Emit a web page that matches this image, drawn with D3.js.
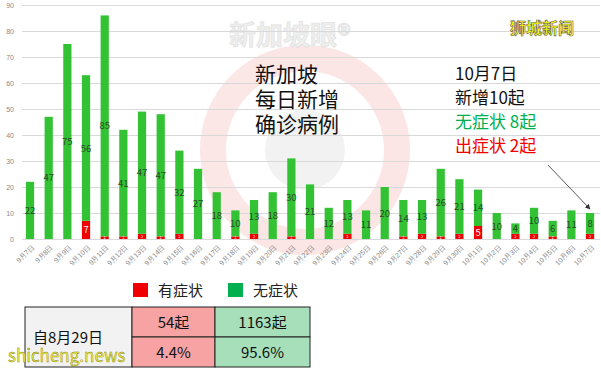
<!DOCTYPE html>
<html>
<head>
<meta charset="utf-8">
<script src="https://cdn.jsdelivr.net/npm/d3@7"></script>
<style>
  body { margin: 0; background: #fff; }
  svg { font-family: "Noto Sans CJK SC", "Noto Sans", sans-serif; }
</style>
</head>
<body>
<svg width="601" height="369"></svg>
<script>
// data
const dates = ['9月7日','9月8日','9月9日','9月10日','9月11日','9月12日','9月13日','9月14日','9月15日','9月16日',
  '9月17日','9月18日','9月19日','9月20日','9月21日','9月22日','9月23日','9月24日','9月25日','9月26日',
  '9月27日','9月28日','9月29日','9月30日','10月1日','10月2日','10月3日','10月4日','10月5日','10月6日','10月7日'];
const symptomatic = [0,0,0,7,1,1,2,1,2,0,0,1,2,0,1,0,0,2,0,0,1,2,1,2,5,0,2,2,1,0,2];
const asymptomatic = [22,47,75,56,85,41,47,47,32,27,18,10,13,18,30,21,12,13,11,20,14,13,26,21,14,10,4,10,6,11,8];
const yTicks = [0,10,20,30,40,50,60,70,80,90];
const tableRows = [['54起','1163起'],['4.4%','95.6%']];

const red = '#f00000';
const green = '#33c233';
const darkGreen = '#00b050';

const svg = d3.select('svg');
const data = dates.map((d, i) => ({date: d, sym: symptomatic[i], asym: asymptomatic[i]}));

// faint watermark logo
const wm = svg.append('g').attr('opacity', 0.1);
wm.append('circle').attr('cx', 305).attr('cy', 150).attr('r', 92)
  .attr('fill', 'none').attr('stroke', '#e01010').attr('stroke-width', 26);
wm.append('circle').attr('cx', 305).attr('cy', 150).attr('r', 40).attr('fill', '#888');
svg.append('text').attr('x', 290).attr('y', 45).attr('text-anchor', 'middle')
  .attr('font-size', 27).attr('font-weight', 'bold').attr('fill', '#eeeeee')
  .attr('stroke', '#e0e0e0').attr('stroke-width', 0.6).text('新加坡眼®');

const x = d3.scaleBand().domain(dates).range([20.7, 599.4]).paddingInner(0.56).paddingOuter(0.28);
const y = d3.scaleLinear().domain([0, 90]).range([239, 5]);

// gridlines + y axis
const yAxis = d3.axisLeft(y).tickValues(yTicks).tickSize(-578).tickPadding(8);
const yAxisG = svg.append('g').attr('transform', 'translate(22,0)').call(yAxis);
yAxisG.select('.domain').remove();
yAxisG.selectAll('line').attr('stroke', '#d9d9d9');
yAxisG.selectAll('text').attr('fill', '#8a8a8a').attr('font-size', 7).attr('x', -8);

// x axis labels, slanted
const xAxis = d3.axisBottom(x).tickSize(0).tickPadding(0);
const xAxisG = svg.append('g').attr('transform', 'translate(0,239)').call(xAxis);
xAxisG.select('.domain').remove();
xAxisG.selectAll('text')
  .attr('x', 0).attr('y', 0).attr('dy', '0.35em')
  .attr('fill', '#7f7f7f').attr('font-size', 7)
  .attr('text-anchor', 'end')
  .attr('transform', 'translate(3,7) rotate(-45)');

// bars
const bars = svg.append('g');
bars.selectAll('.sym').data(data).enter().append('rect')
  .attr('x', d => x(d.date)).attr('width', x.bandwidth())
  .attr('y', d => y(d.sym)).attr('height', d => y(0) - y(d.sym))
  .attr('fill', red);
bars.selectAll('.asym').data(data).enter().append('rect')
  .attr('x', d => x(d.date)).attr('width', x.bandwidth())
  .attr('y', d => y(d.sym + d.asym)).attr('height', d => y(d.sym) - y(d.sym + d.asym))
  .attr('fill', green);

// value labels
bars.selectAll('.asymLabel').data(data).enter().append('text')
  .attr('x', d => x(d.date) + x.bandwidth() / 2)
  .attr('y', d => y(d.sym + d.asym / 2) + 3.5)
  .attr('text-anchor', 'middle').attr('font-size', 9.5).attr('fill', '#2a4a2a')
  .text(d => d.asym);
bars.selectAll('.symLabel').data(data.filter(d => d.sym > 0)).enter().append('text')
  .attr('x', d => x(d.date) + x.bandwidth() / 2)
  .attr('y', d => y(d.sym / 2) + (d.sym > 3 ? 3.5 : 1.5))
  .attr('text-anchor', 'middle').attr('font-size', d => d.sym > 3 ? 9.5 : 4)
  .attr('fill', '#fff')
  .text(d => d.sym);

// title block
const title = ['新加坡', '每日新增', '确诊病例'];
svg.append('g').selectAll('text').data(title).enter().append('text')
  .attr('x', 255).attr('y', (d, i) => 82 + i * 25)
  .attr('font-size', 21).attr('fill', '#111').text(d => d);

// annotation on the right
const notes = [['10月7日', '#111'], ['新增10起', '#111'], ['无症状 8起', darkGreen], ['出症状 2起', red]];
svg.append('g').selectAll('text').data(notes).enter().append('text')
  .attr('x', 455).attr('y', (d, i) => 80 + i * 24)
  .attr('font-size', 17).attr('fill', d => d[1]).text(d => d[0]);

svg.append('defs').append('marker').attr('id', 'arr')
  .attr('viewBox', '0 0 10 10').attr('refX', 9).attr('refY', 5)
  .attr('markerWidth', 6).attr('markerHeight', 6).attr('orient', 'auto')
  .append('path').attr('d', 'M0,0L10,5L0,10z').attr('fill', '#333');
svg.append('line').attr('x1', 548).attr('y1', 165).attr('x2', 590).attr('y2', 209)
  .attr('stroke', '#444').attr('stroke-width', 0.9).attr('marker-end', 'url(#arr)');

// brand tag
svg.append('text').attr('x', 510).attr('y', 34).attr('font-size', 16).attr('font-weight', 'bold')
  .attr('fill', '#ffff00').attr('stroke', '#666').attr('stroke-width', 0.6).text('狮城新闻');

// legend
const legend = [['有症状', red], ['无症状', darkGreen]];
const lg = svg.append('g').selectAll('g').data(legend).enter().append('g')
  .attr('transform', (d, i) => `translate(${133 + i * 95},283)`);
lg.append('rect').attr('width', 15).attr('height', 14).attr('fill', d => d[1]);
lg.append('text').attr('x', 25).attr('y', 13).attr('font-size', 15).attr('fill', '#222').text(d => d[0]);

// summary table
const tb = svg.append('g');
tb.append('rect').attr('x', 25).attr('y', 307).attr('width', 107).attr('height', 60)
  .attr('fill', '#f2f2f2').attr('stroke', '#222');
tb.append('text').attr('x', 33).attr('y', 343).attr('font-size', 15).attr('fill', '#111').text('自8月29日');
const cols = [{x: 132, w: 83, fill: '#f7a3a3'}, {x: 215, w: 95, fill: '#a6dfba'}];
tableRows.forEach((row, r) => {
  row.forEach((val, c) => {
    tb.append('rect').attr('x', cols[c].x).attr('y', 307 + r * 30)
      .attr('width', cols[c].w).attr('height', 30)
      .attr('fill', cols[c].fill).attr('stroke', '#222');
    tb.append('text').attr('x', cols[c].x + cols[c].w / 2).attr('y', 328 + r * 30)
      .attr('text-anchor', 'middle').attr('font-size', 15).attr('fill', '#111').text(val);
  });
});

// site watermark
svg.append('text').attr('x', 8).attr('y', 362).attr('font-size', 17)
  .attr('fill', '#f2f23a').attr('stroke', '#7a7a20').attr('stroke-width', 0.4).text('shicheng.news');
</script>
</body>
</html>
